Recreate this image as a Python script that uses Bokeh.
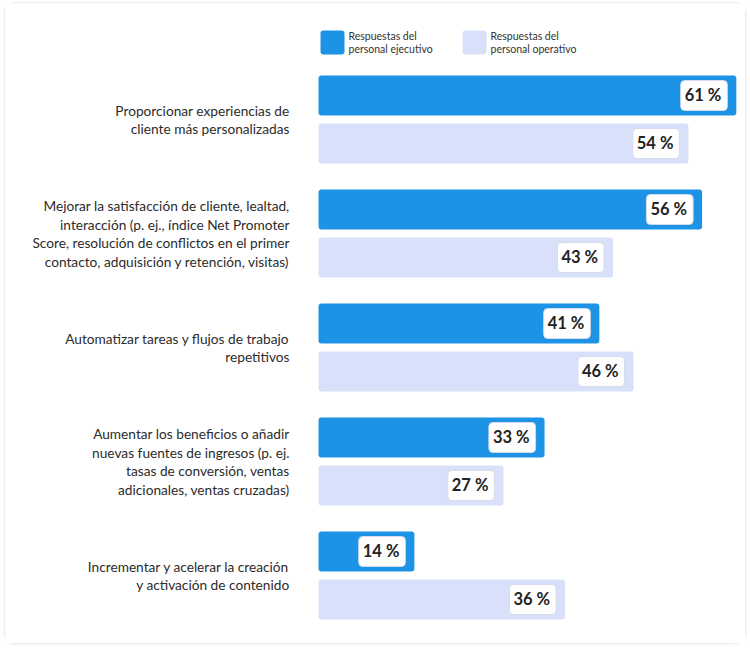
from bokeh.plotting import figure
from bokeh.models import Range1d, ColumnDataSource
from bokeh.core.properties import value
from bokeh.embed import file_html
from bokeh.resources import INLINE

# ---- data ----
categories = [
    "Proporcionar experiencias de\ncliente más personalizadas",
    "Mejorar la satisfacción de cliente, lealtad,\ninteracción (p. ej., índice Net Promoter\nScore, resolución de conflictos en el primer\ncontacto, adquisición y retención, visitas)",
    "Automatizar tareas y flujos de trabajo\nrepetitivos",
    "Aumentar los beneficios o añadir\nnuevas fuentes de ingresos (p. ej.\ntasas de conversión, ventas\nadicionales, ventas cruzadas)",
    "Incrementar y acelerar la creación\ny activación de contenido",
]
ejecutivo = [61, 56, 41, 33, 14]
operativo = [54, 43, 46, 27, 36]
series_names = ["Respuestas del\npersonal ejecutivo", "Respuestas del\npersonal operativo"]
series_colors = ["#1d93e5", "#d9e0fa"]

# ---- layout ----
W, H = 740, 640
X0 = 313.0          # pixel where 0 % sits
PX = 6.85           # pixels per percent
def dx(px):         # figure pixel -> data x
    return (px - X0) / PX

FONT = "Lato"
GROUP_TOP = 92
GROUP_STEP = 114
BAR_H = 40
GAP = 48

p = figure(width=W, height=H, output_backend="svg", toolbar_location=None,
           x_range=Range1d(dx(0), dx(W)), y_range=Range1d(H, 0),
           min_border=0, background_fill_color="white", border_fill_color="white")
p.axis.visible = False
p.grid.visible = False
p.outline_line_color = None
p.styles = {"margin": "3px 0 0 5px", "border-radius": "10px",
            "box-shadow": "0 0 0 1px #ececec, 0 1px 4px rgba(0,0,0,0.07)"}

n = len(categories)
y_exec = [GROUP_TOP + GROUP_STEP * i for i in range(n)]
y_oper = [GROUP_TOP + GROUP_STEP * i + GAP for i in range(n)]
y_cat = [GROUP_TOP + GROUP_STEP * i + GAP / 2 for i in range(n)]

src_e = ColumnDataSource(dict(y=y_exec, v=ejecutivo, t=[f"{v} %" for v in ejecutivo]))
src_o = ColumnDataSource(dict(y=y_oper, v=operativo, t=[f"{v} %" for v in operativo]))

p.hbar(y="y", left=0, right="v", height=BAR_H, source=src_e,
       fill_color=series_colors[0], line_color=None, border_radius=3)
p.hbar(y="y", left=0, right="v", height=BAR_H, source=src_o,
       fill_color=series_colors[1], line_color=None, border_radius=3)

for src in (src_e, src_o):
    p.text(x="v", y="y", text="t", source=src, x_offset=-9,
           text_align="right", text_baseline="middle",
           text_font=value(FONT), text_font_style="bold", text_font_size="16.5px",
           text_color="#222222", background_fill_color="white",
           border_line_color="#d6daec", border_line_width=1,
           padding=[4, 6, 4, 6], border_radius=4)

# category labels
p.text(x=[dx(284)] * n, y=y_cat, text=categories,
       text_align="right", text_baseline="middle", text_line_height=1.08,
       text_font=value(FONT), text_font_size="13.7px", text_color="#2c2c2c")

# legend
leg_x = [dx(315), dx(457)]
p.hbar(y=[39, 39], left=leg_x, right=[x + 24 / PX for x in leg_x], height=24,
       fill_color=series_colors, line_color=None, border_radius=3)
p.text(x=[x + 28 / PX for x in leg_x], y=[39, 39], text=series_names,
       text_align="left", text_baseline="middle", text_line_height=1.12,
       text_font=value(FONT), text_font_size="10.5px", text_color="#333333")

open("out.html", "w").write(file_html(p, INLINE))
